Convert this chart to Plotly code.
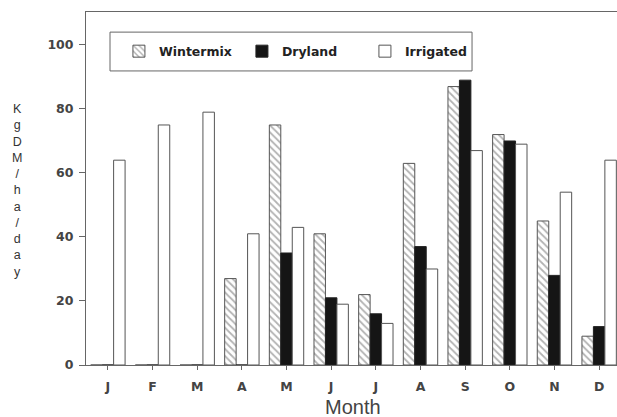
import plotly.graph_objects as go

months = ["J", "F", "M", "A", "M", "J", "J", "A", "S", "O", "N", "D"]
wintermix = [0, 0, 0, 27, 75, 41, 22, 63, 87, 72, 45, 9]
dryland = [0, 0, 0, 0, 35, 21, 16, 37, 89, 70, 28, 12]
irrigated = [64, 75, 79, 41, 43, 19, 13, 30, 67, 69, 54, 64]
y_ticks = [0, 20, 40, 60, 80, 100]
y_title = "KgDM/ha/day"

xpos = list(range(len(months)))
outline = "#555555"

fig = go.Figure()
fig.add_trace(go.Bar(
    x=xpos, y=wintermix, name="Wintermix",
    marker=dict(color="white", line=dict(color=outline, width=1),
                pattern=dict(shape="\\", fgcolor="#666666", bgcolor="white",
                             size=5, solidity=0.35)),
))
fig.add_trace(go.Bar(
    x=xpos, y=dryland, name="Dryland",
    marker=dict(color="#151515", line=dict(color="#222222", width=1)),
))
fig.add_trace(go.Bar(
    x=xpos, y=irrigated, name="Irrigated",
    marker=dict(color="white", line=dict(color=outline, width=1)),
))

bold_font = "DejaVu Sans, sans-serif"
tick_font = dict(family=bold_font, size=12.5, color="#444444", weight="bold")

fig.update_layout(
    width=617, height=417,
    margin=dict(l=86, r=0, t=12, b=52),
    paper_bgcolor="white", plot_bgcolor="white",
    barmode="group", bargap=0.23, bargroupgap=0,
    font=dict(family="Liberation Sans, Arial, sans-serif", color="#333333", size=13),
    showlegend=True,
    legend=dict(
        orientation="h", x=0.062, y=0.888, xanchor="left", yanchor="middle",
        bgcolor="rgba(0,0,0,0)", borderwidth=0,
        font=dict(family=bold_font, size=12.5, color="#222222", weight="bold"),
        entrywidth=78, entrywidthmode="pixels",
        itemclick=False, itemdoubleclick=False,
    ),
    xaxis=dict(
        range=[-0.49, 11.40], tickmode="array", tickvals=xpos, ticktext=months,
        showgrid=False, zeroline=False, showline=True, linecolor="#666666",
        linewidth=1, mirror=True, ticks="outside", ticklen=4, tickcolor="#666666",
        tickfont=tick_font, ticklabelstandoff=6,
    ),
    yaxis=dict(
        range=[0, 110.3], tickmode="array", tickvals=y_ticks,
        showgrid=False, zeroline=False, showline=True, linecolor="#666666",
        linewidth=1, ticks="outside", ticklen=6, tickcolor="#666666",
        tickfont=tick_font, ticklabelstandoff=3,
    ),
    shapes=[dict(
        type="rect", xref="paper", yref="paper",
        x0=0.0452, x1=0.727, y0=0.833, y1=0.943,
        line=dict(color="#666666", width=1), fillcolor="rgba(0,0,0,0)",
    )],
    annotations=[
        dict(text="<br>".join(list(y_title)), xref="paper", yref="paper",
             x=-0.13, y=0.493, xanchor="center", yanchor="middle",
             showarrow=False, font=dict(size=12.5, color="#333333")),
        dict(text="Month", xref="paper", yref="paper", x=0.503, y=-0.12,
             xanchor="center", yanchor="middle", showarrow=False,
             font=dict(size=20, color="#444444")),
    ],
)

fig.write_html("out.html", config={"displayModeBar": False},
               post_script="document.body.style.margin='0';document.body.style.overflow='hidden';")
